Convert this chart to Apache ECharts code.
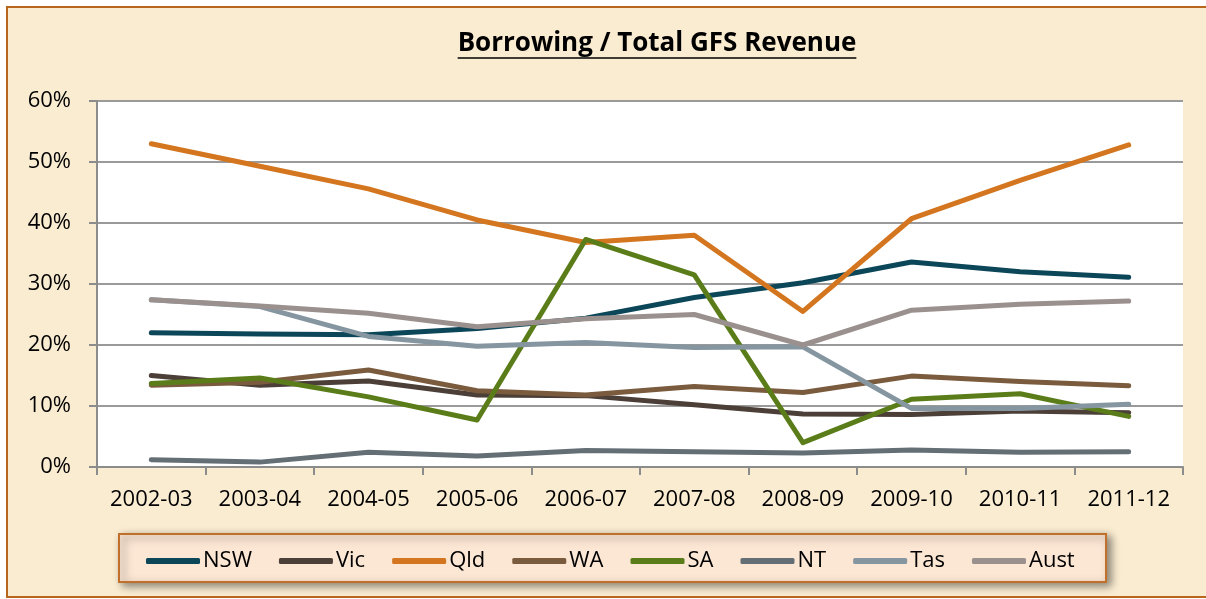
<!DOCTYPE html>
<html>
<head>
<meta charset="utf-8">
<script src="https://cdn.jsdelivr.net/npm/echarts@6/dist/echarts.min.js"></script>
<style>
  html, body { margin: 0; padding: 0; background: #fff; }
  #main { width: 1206px; height: 599px; }
</style>
</head>
<body>
<div id="main"></div>
<script>
  // 借款 / GFS 收入
  var years = ['2002-03', '2003-04', '2004-05', '2005-06', '2006-07', '2007-08', '2008-09', '2009-10', '2010-11', '2011-12'];
  var yTicks = [0, 10, 20, 30, 40, 50, 60];

  var nsw  = [22.0, 21.8, 21.7, 22.7, 24.4, 27.8, 30.2, 33.6, 32.0, 31.1];
  var vic  = [15.0, 13.4, 14.1, 11.8, 11.7, 10.2, 8.7, 8.6, 9.2, 8.9];
  var qld  = [53.0, 49.3, 45.6, 40.5, 36.8, 38.0, 25.5, 40.7, 47.0, 52.8];
  var wa   = [13.4, 13.9, 15.9, 12.5, 11.8, 13.2, 12.2, 14.9, 14.0, 13.3];
  var sa   = [13.7, 14.6, 11.5, 7.7, 37.3, 31.5, 4.0, 11.1, 12.0, 8.3];
  var nt   = [1.2, 0.8, 2.4, 1.8, 2.7, 2.5, 2.3, 2.8, 2.4, 2.5];
  var tas  = [27.4, 26.3, 21.4, 19.8, 20.4, 19.6, 19.7, 9.6, 9.6, 10.3];
  var aust = [27.4, 26.4, 25.2, 23.0, 24.3, 25.0, 20.0, 25.7, 26.7, 27.2];

  var names  = ['NSW', 'Vic', 'Qld', 'WA', 'SA', 'NT', 'Tas', 'Aust'];
  var values = [nsw, vic, qld, wa, sa, nt, tas, aust];
  var colors = ['#0c4659', '#4b3f38', '#d3761f', '#7a5b3d', '#5a7d19', '#636e75', '#8596a1', '#9a918f'];

  var font = "'Open Sans', sans-serif";
  var titleText = 'Borrowing / Total GFS Revenue';
  var titleFont = 'bold 26px ' + font;

  // 标题下划线宽度
  var ctx = document.createElement('canvas').getContext('2d');
  ctx.font = titleFont;
  var tw = ctx.measureText(titleText).width;
  var titleCx = 657;

  var series = [];
  for (var i = 0; i < names.length; i++) {
    series.push({
      name: names[i],
      type: 'line',
      data: values[i],
      symbol: 'none',
      smooth: false,
      color: colors[i],
      lineStyle: { width: 5, color: colors[i], cap: 'round', join: 'round' }
    });
  }

  var option = {
    backgroundColor: '#ffffff',
    animation: false,
    graphic: [
      {
        type: 'rect', z: -10, silent: true,
        shape: { x: 7, y: 7, width: 1210, height: 590 },
        style: { fill: '#faecd1', stroke: '#b8661c', lineWidth: 2 }
      },
      {
        type: 'rect', z: -5, silent: true,
        shape: { x: 119, y: 534, width: 987, height: 48 },
        style: { fill: '#fce6d4', stroke: '#c0702a', lineWidth: 2,
                 shadowBlur: 8, shadowColor: 'rgba(0,0,0,0.45)', shadowOffsetX: 4, shadowOffsetY: 3 }
      },
      {
        type: 'text', z: 10, silent: true,
        style: { text: titleText, x: titleCx, y: 44, align: 'center', verticalAlign: 'middle',
                 font: titleFont, fill: '#000' }
      },
      {
        type: 'line', z: 10, silent: true,
        shape: { x1: titleCx - tw / 2, y1: 58, x2: titleCx + tw / 2, y2: 58 },
        style: { stroke: '#000', lineWidth: 1.5 }
      }
    ],
    legend: {
      left: 141,
      top: 545,
      itemWidth: 54,
      itemHeight: 6,
      itemGap: 27,
      icon: 'roundRect',
      textStyle: { fontFamily: font, fontSize: 22, color: '#000', padding: [0, 0, 0, -2] },
      data: names
    },
    grid: {
      left: 97,
      right: 23,
      top: 101,
      bottom: 132,
      show: true,
      backgroundColor: '#ffffff',
      borderWidth: 0
    },
    xAxis: {
      type: 'category',
      data: years,
      boundaryGap: true,
      axisLine: { lineStyle: { color: '#8c8c8c', width: 2 } },
      axisTick: { show: true, length: 8, lineStyle: { color: '#8c8c8c', width: 2 } },
      axisLabel: { fontFamily: font, fontSize: 22, color: '#000', margin: 22 }
    },
    yAxis: {
      type: 'value',
      min: 0,
      max: 60,
      interval: 10,
      axisLine: { show: true, lineStyle: { color: '#8c8c8c', width: 2 } },
      axisTick: { show: true, length: 8, lineStyle: { color: '#8c8c8c', width: 2 } },
      splitLine: { lineStyle: { color: '#9a9a9a', width: 2 } },
      axisLabel: {
        fontFamily: font, fontSize: 22, color: '#000', margin: 26,
        formatter: function (v) { return yTicks.indexOf(v) >= 0 ? v + '%' : ''; }
      }
    },
    series: series
  };

  var chart = echarts.init(document.getElementById('main'));
  chart.setOption(option);
</script>
</body>
</html>
